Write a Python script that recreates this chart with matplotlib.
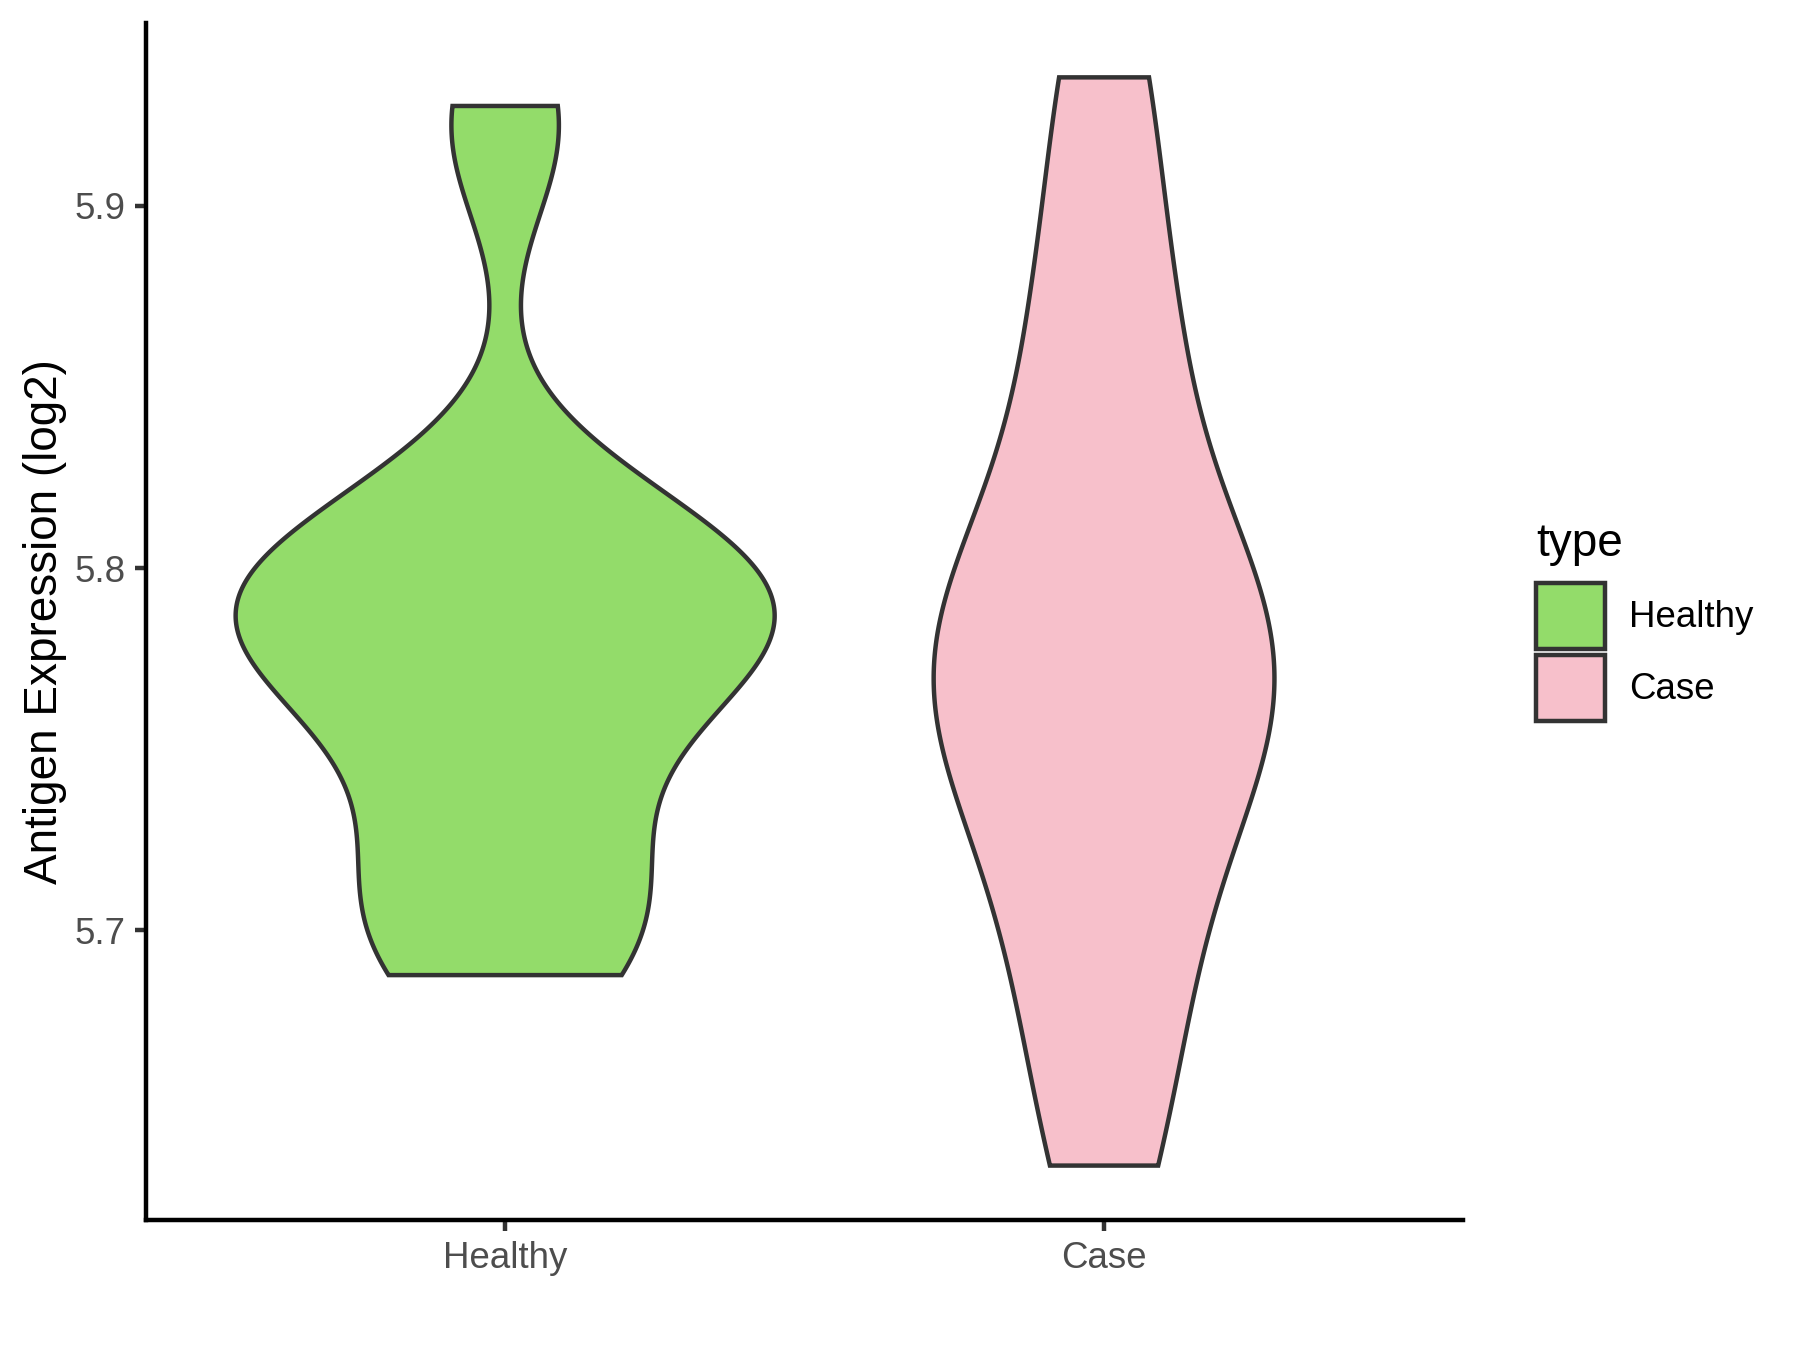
import numpy as np
import matplotlib.pyplot as plt
from matplotlib.patches import Patch

# groups and expression values (log2)
groups = ["Healthy", "Case"]
healthy = [5.6876, 5.690, 5.698, 5.710, 5.722, 5.734, 5.756, 5.765, 5.772, 5.778,
           5.784, 5.787, 5.789, 5.794, 5.799, 5.805, 5.812, 5.820, 5.917, 5.9276]
case = [5.635, 5.677, 5.707, 5.737, 5.754, 5.767, 5.778, 5.791, 5.810, 5.848,
        5.882, 5.9355]
fills = ["#93DC6A", "#F7C0CB"]


def bw_nrd0(x):
    sd = np.std(x, ddof=1)
    q75, q25 = np.percentile(x, [75, 25])
    return 0.9 * min(sd, (q75 - q25) / 1.34) * len(x) ** -0.2


def kde(x, n=512):
    # gaussian kde, trimmed to data range like geom_violin
    x = np.asarray(x)
    bw = bw_nrd0(x)
    grid = np.linspace(x.min(), x.max(), n)
    z = (grid[:, None] - x[None, :]) / bw
    dens = np.exp(-0.5 * z ** 2).sum(axis=1) / (len(x) * bw * np.sqrt(2 * np.pi))
    return grid, dens


plt.rcParams["font.family"] = ["Liberation Sans", "DejaVu Sans"]
fig = plt.figure(figsize=(6, 4.5), dpi=300)
ax = fig.add_axes([0.081, 0.0963, 0.732, 0.8867])

curves = [kde(v) for v in (healthy, case)]
dmax = max(d.max() for _, d in curves)  # scale = "area"

for i, ((grid, dens), col) in enumerate(zip(curves, fills)):
    half = 0.9 / 2 * dens / dmax
    xs = np.concatenate([i + 1 - half, (i + 1 + half)[::-1]])
    ys = np.concatenate([grid, grid[::-1]])
    ax.fill(xs, ys, facecolor=col, edgecolor="#333333", lw=1.07)

allv = np.concatenate([healthy, case])
rng = allv.max() - allv.min()
ax.set_ylim(allv.min() - 0.05 * rng, allv.max() + 0.05 * rng)
ax.set_xlim(0.4, 2.6)
ax.set_xticks([1, 2])
ax.set_xticklabels(groups)
ax.set_yticks([5.7, 5.8, 5.9])

for s in ["top", "right"]:
    ax.spines[s].set_visible(False)
for s in ["left", "bottom"]:
    ax.spines[s].set_linewidth(1.07)
    ax.spines[s].set_color("black")
ax.tick_params(length=2.75, width=1.07, color="#333333", labelsize=8.8,
               labelcolor="#4D4D4D", pad=2.2)
ax.set_ylabel("Antigen Expression (log2)", fontsize=11, labelpad=1.8)

handles = [Patch(facecolor=c, edgecolor="#333333", lw=1.07) for c in fills]
fig.legend(handles, groups, loc="upper left", bbox_to_anchor=(0.8533, 0.5681),
           frameon=False, fontsize=8.8, handlelength=1.88, handleheight=2.385,
           handletextpad=0.65, labelspacing=0.16, borderpad=0, borderaxespad=0)
fig.text(0.8533, 0.588, "type", fontsize=11, va="baseline")

fig.savefig("out.png", dpi=300)
